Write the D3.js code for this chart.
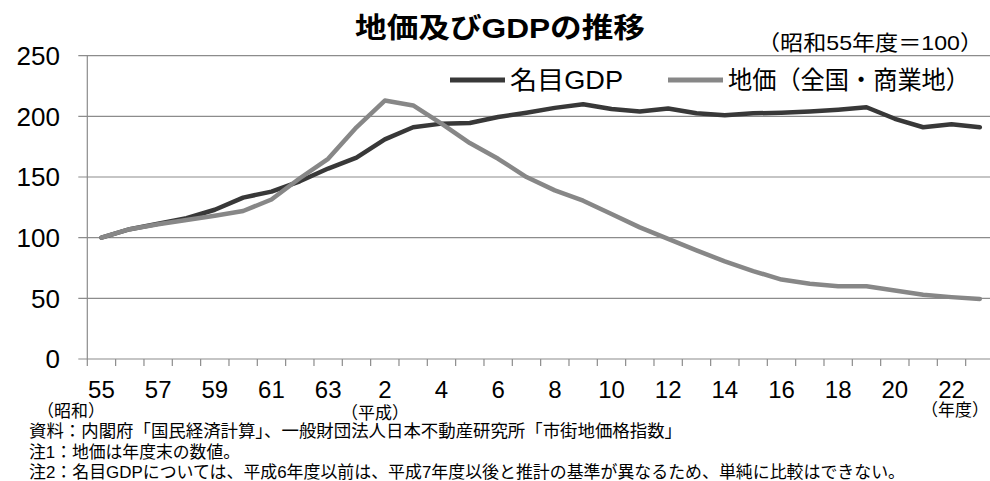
<!DOCTYPE html>
<html>
<head>
<meta charset="utf-8">
<script src="https://cdnjs.cloudflare.com/ajax/libs/d3/7.8.5/d3.min.js"></script>
<style>
body{margin:0;background:#fff;}
text{font-family:"Liberation Sans","Noto Sans CJK JP",sans-serif;}
</style>
</head>
<body>
<div id="plot"></div>
<script>
// 昭和55年度〜平成23年度
var years = ['55','56','57','58','59','60','61','62','63','1','2','3','4','5','6','7','8','9','10',
             '11','12','13','14','15','16','17','18','19','20','21','22','23'];
var gdp = [100, 107, 111.5, 116, 123, 133, 138, 146.5, 157, 166, 181, 191, 194, 194.5, 199.5, 203,
           207, 210, 206, 204, 206.5, 202.5, 201, 202.5, 203, 204, 205.5, 207.5, 198, 191, 193.5, 191];
var land = [100, 107, 111, 114.5, 118, 122, 131.5, 149, 165, 191, 213, 209, 194, 178, 165, 150,
            139, 130.5, 119.5, 108.5, 99, 89.5, 80.5, 72.5, 65.5, 62, 60, 60, 56.5, 53, 51, 49.5];
var yTicks = [0, 50, 100, 150, 200, 250];
var seriesNames = ['名目GDP', '地価（全国・商業地）'];
var notes = [
  '資料：内閣府「国民経済計算」、一般財団法人日本不動産研究所「市街地価格指数」',
  '注1：地価は年度末の数値。',
  '注2：名目GDPについては、平成6年度以前は、平成7年度以後と推計の基準が異なるため、単純に比較はできない。'
];
var noteWidths = [653, 211, 876];

var W = 990, H = 481;
var m = {l: 87.3, r: 994, t: 55.7, b: 359};

var svg = d3.select('#plot')
  .append('svg')
  .attr('width', W)
  .attr('height', H);

var x = d3.scaleBand().domain(years).range([m.l, m.r]).padding(0);
var y = d3.scaleLinear().domain([0, 250]).range([m.b, m.t]);

// gridlines
svg.selectAll('.grid')
  .data(yTicks)
  .enter()
  .append('line')
  .attr('x1', m.l - 9)
  .attr('x2', m.r)
  .attr('y1', function (d) { return y(d); })
  .attr('y2', function (d) { return y(d); })
  .style('stroke', '#8c8c8c')
  .style('stroke-width', 1.2);

// y axis line
svg.append('line')
  .attr('x1', m.l).attr('x2', m.l)
  .attr('y1', m.t).attr('y2', m.b)
  .style('stroke', '#8c8c8c')
  .style('stroke-width', 1.2);

// x ticks at band edges
var edges = years.map(function (d) { return x(d); });
svg.selectAll('.xtick')
  .data(edges)
  .enter()
  .append('line')
  .attr('x1', function (d) { return d; })
  .attr('x2', function (d) { return d; })
  .attr('y1', m.b)
  .attr('y2', m.b + 7)
  .style('stroke', '#8c8c8c')
  .style('stroke-width', 1.2);

// y labels
svg.selectAll('.ylab')
  .data(yTicks)
  .enter()
  .append('text')
  .attr('x', 60)
  .attr('y', function (d) { return y(d); })
  .attr('dy', '0.36em')
  .attr('text-anchor', 'end')
  .style('font-size', '26px')
  .text(function (d) { return d; });

// x labels, every other year
svg.selectAll('.xlab')
  .data(years.filter(function (d, i) { return i % 2 == 0; }))
  .enter()
  .append('text')
  .attr('x', function (d) { return x(d) + x.bandwidth() / 2; })
  .attr('y', 398)
  .attr('text-anchor', 'middle')
  .style('font-size', '24px')
  .text(function (d) { return d; });

// lines
var line = d3.line()
  .x(function (d, i) { return x(years[i]) + x.bandwidth() / 2; })
  .y(function (d) { return y(d); });

svg.append('path')
  .datum(gdp)
  .attr('d', line)
  .style('fill', 'none')
  .style('stroke', '#383838')
  .style('stroke-width', 4.5)
  .style('stroke-linejoin', 'round')
  .style('stroke-linecap', 'round');

svg.append('path')
  .datum(land)
  .attr('d', line)
  .style('fill', 'none')
  .style('stroke', '#878787')
  .style('stroke-width', 4.5)
  .style('stroke-linejoin', 'round')
  .style('stroke-linecap', 'round');

// title
svg.append('text')
  .attr('x', 355).attr('y', 38)
  .attr('textLength', 290)
  .attr('lengthAdjust', 'spacingAndGlyphs')
  .style('font-size', '28px')
  .style('font-weight', 'bold')
  .text('地価及びGDPの推移');

svg.append('text')
  .attr('x', 757).attr('y', 50)
  .attr('textLength', 226)
  .attr('lengthAdjust', 'spacingAndGlyphs')
  .style('font-size', '21px')
  .text('（昭和55年度＝100）');

// legend
var legend = [
  {name: seriesNames[0], color: '#383838', x1: 450, x2: 505, w: 113},
  {name: seriesNames[1], color: '#878787', x1: 668, x2: 723, w: 242}
];
svg.selectAll('.legline')
  .data(legend)
  .enter()
  .append('line')
  .attr('x1', function (d) { return d.x1; })
  .attr('x2', function (d) { return d.x2; })
  .attr('y1', 80).attr('y2', 80)
  .style('stroke', function (d) { return d.color; })
  .style('stroke-width', 5);
svg.selectAll('.legtext')
  .data(legend)
  .enter()
  .append('text')
  .attr('x', function (d) { return d.x2 + 5; })
  .attr('y', 89)
  .attr('textLength', function (d) { return d.w; })
  .attr('lengthAdjust', 'spacingAndGlyphs')
  .style('font-size', '25px')
  .text(function (d) { return d.name; });

// era labels
svg.append('text').attr('x', 37).attr('y', 417).style('font-size', '17px').text('（昭和）');
svg.append('text').attr('x', 341).attr('y', 419).style('font-size', '17px').text('（平成）');
svg.append('text').attr('x', 989).attr('y', 416).attr('text-anchor', 'end').style('font-size', '17px').text('（年度）');

// notes
svg.selectAll('.note')
  .data(notes)
  .enter()
  .append('text')
  .attr('x', 29)
  .attr('y', function (d, i) { return 437 + i * 20.5; })
  .attr('textLength', function (d, i) { return noteWidths[i]; })
  .attr('lengthAdjust', 'spacingAndGlyphs')
  .style('font-size', '17px')
  .text(function (d) { return d; });
</script>
</body>
</html>
